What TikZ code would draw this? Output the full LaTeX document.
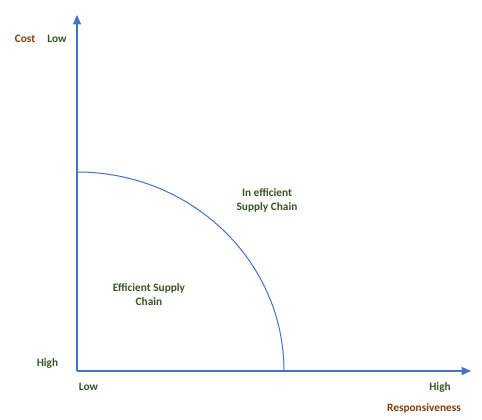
\documentclass[tikz,border=0pt]{standalone}
\usepackage{fontspec}
\setmainfont{Carlito}
\usetikzlibrary{arrows.meta}
\definecolor{axisblue}{HTML}{4472C4}
\definecolor{labbrown}{HTML}{843C0C}
\definecolor{labgreen}{HTML}{375623}
\tikzset{
  axisline/.style={draw=axisblue, line width=0.8pt, -{Triangle[length=7pt,width=6pt]}},
  curve/.style={draw=axisblue, line width=0.75pt},
  lab/.style={font=\bfseries\fontsize{8.5}{10.5}\selectfont, inner sep=0pt, align=center},
  brownlab/.style={lab, text=labbrown},
  greenlab/.style={lab, text=labgreen}
}
\begin{document}
\begin{tikzpicture}[x=0.75pt,y=-0.75pt]
\useasboundingbox (0,0) rectangle (482,420);
\coordinate (o) at (77,371);
\coordinate (ytip) at (77,15);
\coordinate (xtip) at (471,371);
\coordinate (arcstart) at (77,172);
\draw[axisline] (o) -- (ytip);
\draw[axisline] (o) -- (xtip);
\draw[curve] (arcstart) arc[start angle=90, end angle=0, x radius=207, y radius=-199];
\node[brownlab] (cost) at (25,39) {Cost};
\node[greenlab] (ylow) at (57,39) {Low};
\node[greenlab] (yhigh) at (47.5,363) {High};
\node[greenlab] (xlow) at (88.5,387) {Low};
\node[greenlab] (xhigh) at (440,387) {High};
\node[brownlab] (resp) at (424,408) {Responsiveness};
\node[greenlab] (inef) at (267,200) {In efficient\\Supply Chain};
\node[greenlab] (ef) at (149,295) {Efficient Supply\\Chain};
\end{tikzpicture}
\end{document}
